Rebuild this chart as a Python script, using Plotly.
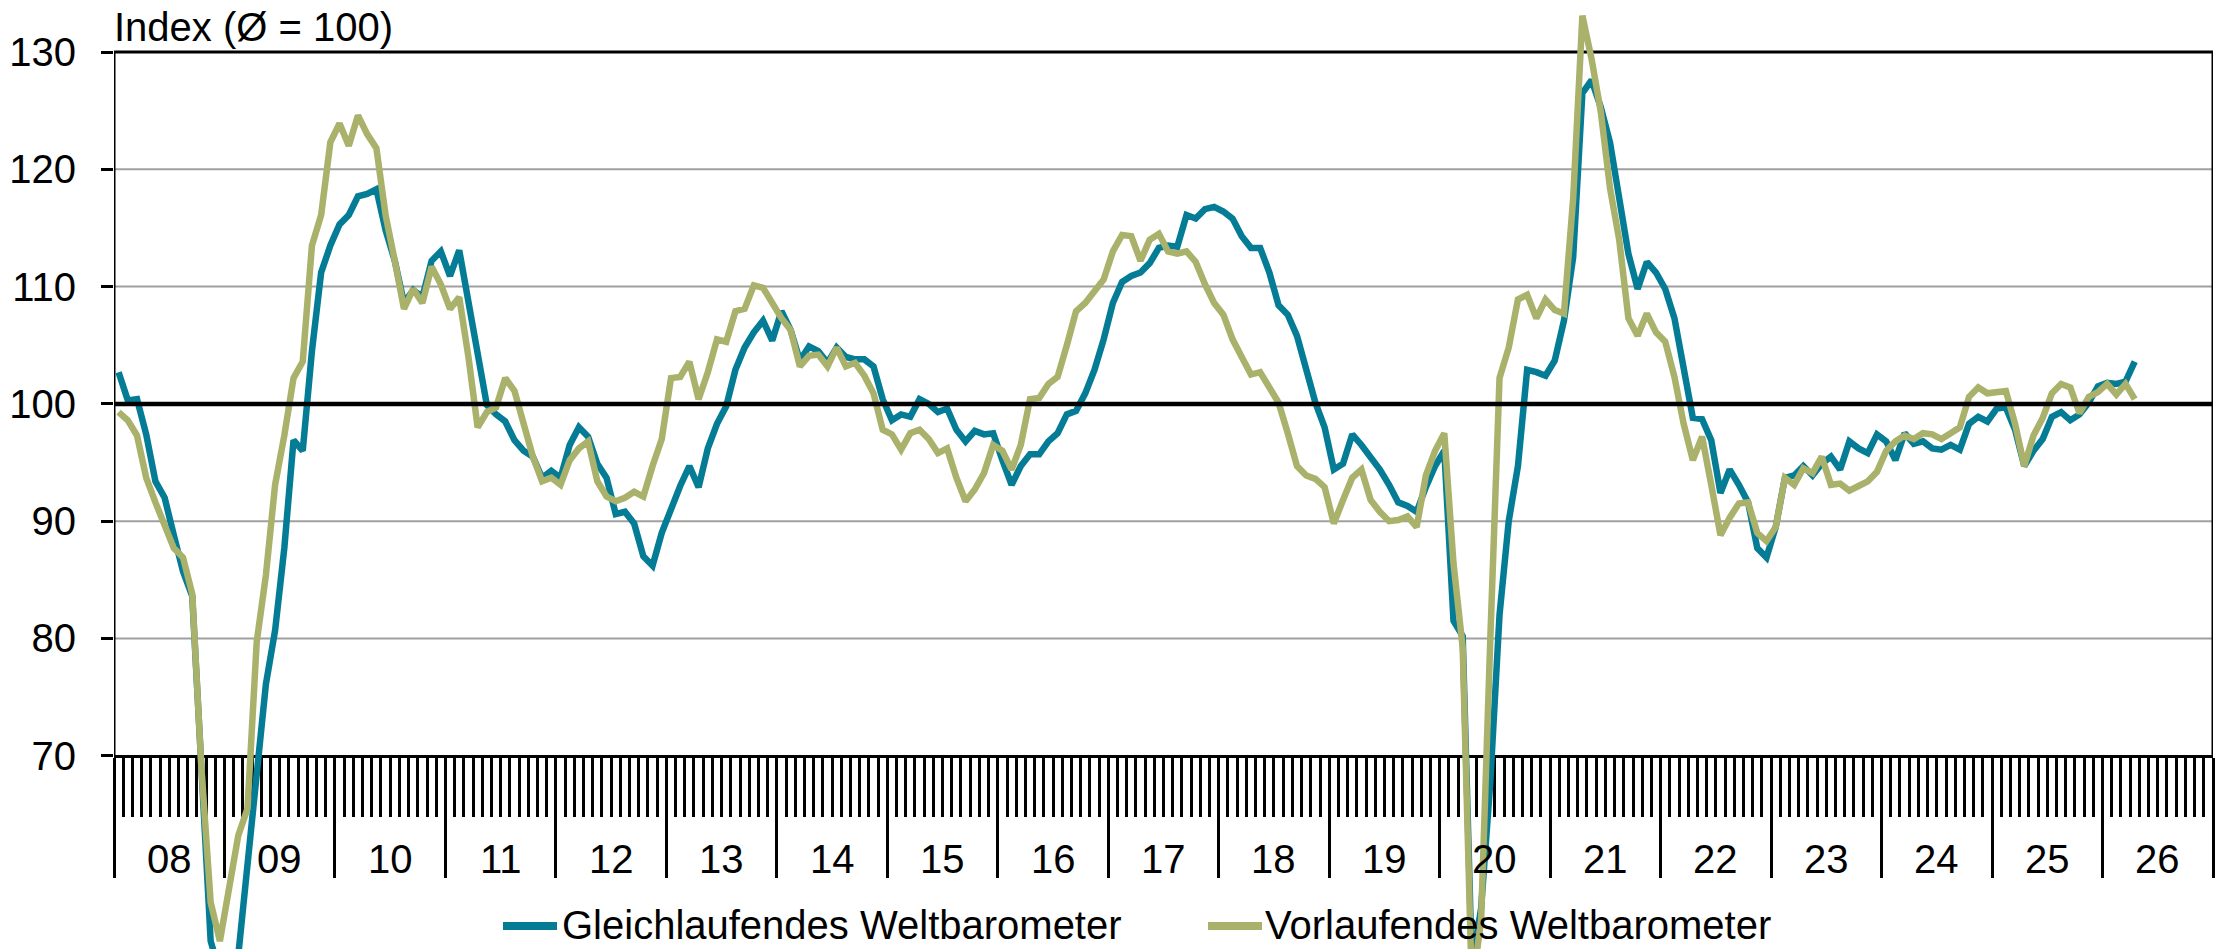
import plotly.graph_objects as go

# ---------------- data ----------------
year_labels = ["08", "09", "10", "11", "12", "13", "14", "15", "16", "17",
               "18", "19", "20", "21", "22", "23", "24", "25", "26"]
y_ticks = [70, 80, 90, 100, 110, 120, 130]
y_title = "Index (Ø = 100)"
series_names = ["Gleichlaufendes Weltbarometer", "Vorlaufendes Weltbarometer"]

# monthly values, Jan 2008 onwards
gleichlaufend = [
    102.7, 100.3, 100.4, 97.4, 93.4, 92.0, 88.8, 85.7, 83.6, 67.5, 54.2, 51.5,      # 2008
    50.5, 53.0, 61.1, 68.9, 76.1, 80.7, 87.7, 96.9, 96.0, 104.5, 111.2, 113.5,      # 2009
    115.3, 116.1, 117.7, 117.9, 118.3, 114.8, 112.2, 108.6, 109.7, 109.1, 112.2, 113.0,  # 2010
    110.9, 113.1, 108.6, 104.0, 99.9, 99.1, 98.5, 96.9, 96.0, 95.5, 93.7, 94.3,     # 2011
    93.7, 96.5, 98.0, 97.2, 94.9, 93.7, 90.6, 90.8, 89.8, 87.0, 86.2, 89.0,         # 2012
    91.1, 93.0, 94.7, 92.9, 96.2, 98.3, 99.8, 102.9, 104.8, 106.1, 107.1, 105.4,    # 2013
    107.9, 106.3, 103.7, 104.9, 104.5, 103.5, 104.8, 104.0, 103.8, 103.8, 103.2, 100.4,  # 2014
    98.6, 99.1, 98.9, 100.4, 100.0, 99.3, 99.6, 97.8, 96.8, 97.7, 97.4, 97.5,       # 2015
    95.2, 93.1, 94.7, 95.7, 95.7, 96.8, 97.5, 99.1, 99.4, 100.9, 102.9, 105.5,      # 2016
    108.6, 110.4, 110.9, 111.2, 112.0, 113.3, 113.5, 113.4, 116.1, 115.8, 116.6, 116.8,  # 2017
    116.4, 115.8, 114.3, 113.3, 113.3, 111.2, 108.4, 107.6, 105.8, 102.7, 100.1, 98.0,  # 2018
    94.4, 94.9, 97.4, 96.5, 95.5, 94.4, 93.1, 91.6, 91.3, 90.8, 92.9, 94.7,         # 2019
    96.0, 81.5, 80.2, 52.0, 57.0, 67.8, 82.0, 90.0, 94.7, 102.9, 102.7, 102.4,      # 2020
    103.7, 107.1, 112.5, 126.5, 127.6, 125.3, 122.3, 117.4, 112.8, 109.8, 112.1, 111.2,  # 2021
    109.8, 107.3, 102.7, 98.8, 98.7, 96.9, 92.4, 94.4, 93.1, 91.6, 87.7, 86.9,      # 2022
    89.5, 93.7, 93.9, 94.7, 93.9, 94.9, 95.5, 94.4, 96.8, 96.2, 95.8, 97.4,         # 2023
    96.8, 95.2, 97.5, 96.6, 96.8, 96.2, 96.1, 96.5, 96.1, 98.3, 98.9, 98.5,         # 2024
    99.6, 99.7, 97.8, 94.7, 96.0, 97.0, 98.9, 99.3, 98.6, 99.1, 100.1, 101.5,       # 2025
    101.8, 101.7, 101.9, 103.6,                                                     # 2026
]
vorlaufend = [
    99.3, 98.6, 97.3, 93.7, 91.6, 89.5, 87.7, 86.9, 83.8, 68.9, 57.5, 54.2,         # 2008
    58.6, 63.2, 65.5, 79.7, 85.4, 93.1, 97.3, 102.2, 103.6, 113.5, 116.1, 122.3,    # 2009
    123.9, 122.0, 124.6, 123.0, 121.8, 116.1, 112.2, 108.1, 109.8, 108.6, 111.7, 110.2,  # 2010
    108.1, 109.1, 104.0, 98.0, 99.3, 99.7, 102.2, 101.1, 98.3, 95.5, 93.4, 93.7,    # 2011
    93.1, 95.2, 96.2, 96.8, 93.4, 92.1, 91.7, 92.0, 92.5, 92.1, 94.7, 97.0,         # 2012
    102.2, 102.3, 103.6, 100.4, 102.7, 105.5, 105.3, 107.9, 108.1, 110.1, 109.9, 108.6,  # 2013
    107.3, 106.3, 103.2, 104.1, 104.2, 103.2, 104.8, 103.2, 103.5, 102.4, 100.9, 97.8,   # 2014
    97.4, 96.1, 97.5, 97.8, 97.0, 95.8, 96.2, 93.7, 91.7, 92.7, 94.1, 96.5,         # 2015
    96.0, 94.4, 96.5, 100.4, 100.5, 101.7, 102.3, 105.0, 107.9, 108.6, 109.7, 110.6,  # 2016
    113.0, 114.4, 114.3, 112.2, 114.0, 114.5, 113.0, 112.8, 113.0, 112.1, 110.2, 108.6,  # 2017
    107.6, 105.5, 104.0, 102.5, 102.7, 101.4, 100.1, 97.5, 94.7, 93.9, 93.6, 92.9,  # 2018
    89.8, 91.8, 93.7, 94.4, 91.8, 90.8, 90.0, 90.1, 90.4, 89.5, 93.9, 96.0,         # 2019
    97.5, 86.4, 79.2, 50.0, 56.0, 80.0, 102.2, 104.8, 108.9, 109.3, 107.3, 108.9,   # 2020
    108.0, 107.7, 117.5, 133.1, 129.4, 124.9, 118.4, 114.0, 107.3, 105.8, 107.7, 106.1,  # 2021
    105.3, 102.3, 98.3, 95.2, 97.2, 93.1, 88.8, 90.3, 91.5, 91.6, 89.0, 88.3,       # 2022
    89.5, 93.7, 93.1, 94.5, 94.1, 95.5, 93.1, 93.2, 92.6, 93.0, 93.4, 94.2,         # 2023
    96.0, 96.8, 97.3, 97.0, 97.5, 97.4, 97.0, 97.5, 98.0, 100.6, 101.4, 100.9,      # 2024
    101.0, 101.1, 98.3, 94.7, 97.3, 98.8, 100.9, 101.7, 101.4, 99.2, 100.6, 101.0,  # 2025
    101.7, 100.8, 101.7, 100.4,                                                     # 2026
]

# ---------------- styling / geometry ----------------
W, H = 2223, 949
ML, MR = 114, 10
PLOT_W = W - ML - MR
FONT = "Liberation Sans, Arial, Helvetica, sans-serif"
FS = 40
TEAL = "#057C96"
OLIVE = "#A9B16A"
GRID = "#a0a0a0"

# pixel rows of the 130 and 70 lines (plot area spans the full height)
PX_TOP, PX_BOT = 52.0, 755.75
per_unit = (PX_BOT - PX_TOP) / (y_ticks[-1] - y_ticks[0])
Y_MAX = y_ticks[-1] + PX_TOP / per_unit
Y_MIN = y_ticks[0] - (H - PX_BOT) / per_unit


def py(px):  # pixel row -> paper y
    return (H - px) / H


def pxp(px):  # pixel column -> paper x
    return (px - ML) / PLOT_W


n_months = 12 * len(year_labels)
x_vals = [i + 0.5 for i in range(len(gleichlaufend))]
x_axis_pos = (y_ticks[0] - Y_MIN) / (Y_MAX - Y_MIN)

fig = go.Figure()
fig.add_trace(go.Scatter(x=x_vals, y=gleichlaufend, mode="lines", name=series_names[0],
                         line=dict(color=TEAL, width=6.5), showlegend=False, hoverinfo="skip"))
fig.add_trace(go.Scatter(x=x_vals, y=vorlaufend, mode="lines", name=series_names[1],
                         line=dict(color=OLIVE, width=6.5), showlegend=False, hoverinfo="skip"))

shapes = []
# horizontal gridlines (inner values only)
for v in y_ticks[1:-1]:
    if v == 100:
        continue
    shapes.append(dict(type="line", xref="x", yref="y", x0=0, x1=n_months, y0=v, y1=v,
                       line=dict(color=GRID, width=2), layer="below"))
# frame: top, left, right
shapes.append(dict(type="line", xref="x", yref="y", x0=0, x1=n_months, y0=y_ticks[-1], y1=y_ticks[-1],
                   line=dict(color="black", width=3), layer="below"))
shapes.append(dict(type="line", xref="x", yref="y", x0=0, x1=0, y0=y_ticks[0], y1=y_ticks[-1],
                   line=dict(color="black", width=3), layer="below"))
shapes.append(dict(type="line", xref="x", yref="y", x0=n_months, x1=n_months, y0=y_ticks[0], y1=y_ticks[-1],
                   line=dict(color="black", width=3), layer="below"))
# 100 reference line
shapes.append(dict(type="line", xref="x", yref="y", x0=0, x1=n_months, y0=100, y1=100,
                   line=dict(color="black", width=4.5), layer="above"))
# legend samples
shapes.append(dict(type="line", xref="paper", yref="paper", x0=pxp(503), x1=pxp(557), y0=py(926), y1=py(926),
                   line=dict(color=TEAL, width=8)))
shapes.append(dict(type="line", xref="paper", yref="paper", x0=pxp(1208), x1=pxp(1262), y0=py(926), y1=py(926),
                   line=dict(color=OLIVE, width=8)))

annotations = []
for k, lab in enumerate(year_labels):
    annotations.append(dict(x=12 * k + 6, xref="x", y=py(859), yref="paper", text=lab, showarrow=False,
                            xanchor="center", yanchor="middle", font=dict(size=FS, color="black", family=FONT)))
annotations.append(dict(x=pxp(112), xref="paper", y=py(27), yref="paper", text=y_title, showarrow=False,
                        xanchor="left", yanchor="middle", font=dict(size=FS, color="black", family=FONT)))
annotations.append(dict(x=pxp(560), xref="paper", y=0, yref="paper", text=series_names[0], showarrow=False,
                        xanchor="left", yanchor="bottom", font=dict(size=FS, color="black", family=FONT)))
annotations.append(dict(x=pxp(1263), xref="paper", y=0, yref="paper", text=series_names[1], showarrow=False,
                        xanchor="left", yanchor="bottom", font=dict(size=FS, color="black", family=FONT)))

fig.update_layout(
    width=W, height=H,
    margin=dict(l=ML, r=MR, t=0, b=0, pad=0, autoexpand=False),
    paper_bgcolor="white", plot_bgcolor="white",
    font=dict(family=FONT, size=FS, color="black"),
    showlegend=False,
    shapes=shapes, annotations=annotations,
    xaxis=dict(range=[0, n_months], anchor="free", position=x_axis_pos,
               showline=True, linecolor="black", linewidth=3,
               tickmode="array", tickvals=list(range(0, n_months + 1, 12)),
               ticks="outside", ticklen=120, tickwidth=3, tickcolor="black",
               showticklabels=False, showgrid=False, zeroline=False, automargin=False,
               minor=dict(tickmode="linear", tick0=0, dtick=1, ticks="outside", ticklen=59,
                          tickwidth=3, tickcolor="black", showgrid=False),
               layer="below traces", fixedrange=True),
    yaxis=dict(range=[Y_MIN, Y_MAX], tickmode="array", tickvals=y_ticks,
               ticktext=[str(v) for v in y_ticks],
               ticks="outside", ticklen=12, tickwidth=3, tickcolor="black",
               showgrid=False, zeroline=False, showline=False, automargin=False,
               tickfont=dict(size=FS, color="black", family=FONT), ticklabelstandoff=17,
               layer="below traces", fixedrange=True),
)

fig.write_html("out.html", config={"displayModeBar": False, "staticPlot": True},
               post_script="document.body.style.margin='0';document.body.style.overflow='hidden';")
